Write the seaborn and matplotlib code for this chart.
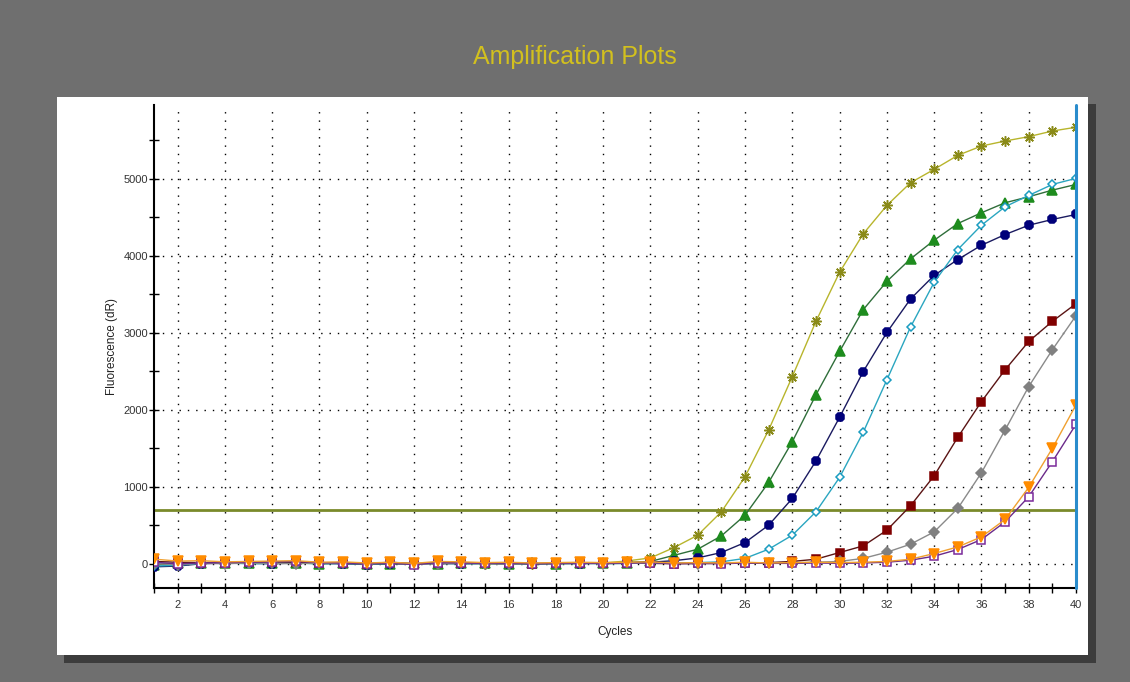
import numpy as np
import pandas as pd
import matplotlib
matplotlib.use("Agg")
import matplotlib.pyplot as plt
from matplotlib.patches import Rectangle
from matplotlib.ticker import MultipleLocator
import seaborn as sns

cycles = list(range(1, 41))
olive = [-20, 10, 15, 20, 5, 10, 15, 5, 10, 0, 5, 0, 10, 5, 0, 5, 0, 10, 5, 10,
         36, 76, 211, 371, 675, 1130, 1738, 2432, 3149, 3787, 4286, 4655, 4950, 5124,
         5306, 5427, 5492, 5549, 5622, 5671]
green = [-10, 5, 10, 15, 10, 5, 10, 0, 5, -5, 0, 5, 0, 10, 5, 0, 5, 0, 10, 5, 15,
         30, 110, 189, 362, 631, 1057, 1586, 2194, 2758, 3301, 3669, 3961, 4203, 4420,
         4560, 4690, 4768, 4854, 4928]
navy = [-40, -30, 0, 10, 5, 0, 10, 5, 0, -10, 0, -5, 5, 0, 5, -5, 0, 5, 0, 10, 15, 20,
        40, 76, 146, 276, 501, 849, 1335, 1903, 2497, 3005, 3440, 3747, 3952, 4138,
        4277, 4398, 4473, 4538]
teal = [-30, -20, 5, 10, 0, 5, 10, 0, 5, -5, 5, 0, 5, 0, 0, 5, -5, 0, 5, 0, 5, 10, 10, 15,
        25, 70, 189, 371, 675, 1122, 1708, 2389, 3075, 3656, 4082, 4398, 4638, 4785,
        4928, 5007]
darkred = [30, 20, 15, 10, 20, 25, 20, 15, 10, 0, 20, 0, 10, 15, 5, 10, 0, 5, 10, 5, 10,
           5, 0, 5, 10, 5, 15, 30, 59, 146, 232, 436, 753, 1143, 1643, 2107, 2520, 2888,
           3149, 3379]
gray = [0, -10, 5, 0, 10, 5, 0, 10, 5, 0, 5, -5, 0, 5, 0, -5, 5, 0, 5, 0, 5, 10, 5, 0, 5,
        10, 5, 10, 20, 30, 70, 150, 254, 414, 719, 1182, 1738, 2302, 2780, 3223]
purple = [20, 0, 10, 15, 20, 25, 30, 15, 10, 0, 10, -10, 15, 10, 5, 10, 0, 5, 10, 5, 10,
          15, 0, 5, 0, 10, 5, 5, 10, 5, 10, 20, 46, 98, 185, 315, 544, 870, 1326, 1812]
orange = [60, 35, 40, 25, 30, 35, 40, 20, 25, 10, 20, 5, 30, 25, 15, 20, 10, 15, 20, 15,
          20, 25, 10, 15, 10, 20, 10, 15, 20, 15, 20, 30, 59, 133, 219, 349, 575, 992,
          1500, 2064]
threshold = 700
x_ticks = list(range(2, 41, 2))
y_ticks = [0, 1000, 2000, 3000, 4000, 5000]

# (values, line colour, marker, marker face, marker edge, size)
series = [
    (olive, "#b8b52c", (8, 2, 0), "#8a8a18", "#8a8a18", 7.5),
    (green, "#2f6e3a", "^", "#1e8c1e", "#1e8c1e", 6.5),
    (navy, "#1a1a60", "8", "#00007a", "#00007a", 6.5),
    (teal, "#2aa6c0", "D", "white", "#1a9cc0", 4.5),
    (darkred, "#5a1414", "s", "#800000", "#800000", 6),
    (gray, "#8a8a8a", "D", "#808080", "#808080", 5),
    (purple, "#6a2a8a", "s", "white", "#7a2a9a", 5.5),
    (orange, "#f0a030", "v", "#ff8c00", "#ff8c00", 6.5),
]

sns.set_theme(style="white")
plt.rcParams["font.family"] = ["Liberation Sans", "DejaVu Sans"]

fig = plt.figure(figsize=(11.3, 6.82), dpi=100)
fig.patch.set_facecolor("#6f6f6f")

W, H = 1130, 682
# shadow and white panel
fig.patches.append(Rectangle((64 / W, 1 - 663 / H), (1096 - 64) / W, (663 - 104) / H,
                             transform=fig.transFigure, facecolor="#3c3c3c",
                             edgecolor="none", zorder=-2))
fig.patches.append(Rectangle((57 / W, 1 - 655 / H), (1088 - 57) / W, (655 - 97) / H,
                             transform=fig.transFigure, facecolor="white",
                             edgecolor="none", zorder=-1))

fig.text(575 / W, 1 - 57 / H, "Amplification Plots", color="#d2c01e",
         fontsize=18, ha="center", va="center")

ax = fig.add_axes([154 / W, 1 - 588 / H, (1076 - 154) / W, (588 - 105) / H])
ax.set_zorder(5)
ax.set_facecolor("none")

for i, (vals, lc, mk, mfc, mec, ms) in enumerate(series):
    sns.lineplot(x=cycles, y=vals, ax=ax, color=lc, linewidth=1.0,
                 marker=mk, markersize=ms, markerfacecolor=mfc,
                 markeredgecolor=mec, markeredgewidth=1.1, zorder=3 + i)

ax.axhline(threshold, color="#7a8a2a", linewidth=2.0, zorder=2)
ax.axvline(cycles[-1], color="#2a8ccc", linewidth=2.2, zorder=20, clip_on=False)

ax.set_xlim(1, 40)
ax.set_ylim(-315, 5960)
ax.set_xticks(x_ticks)
ax.set_yticks(y_ticks)
ax.xaxis.set_minor_locator(MultipleLocator(1))
ax.yaxis.set_minor_locator(MultipleLocator(500))
ax.grid(True, which="major", color="black", linestyle=(0, (1, 5)), linewidth=1.0)
ax.tick_params(axis="both", which="both", direction="inout", length=7, width=1,
               color="black", labelsize=8, labelcolor="#333333", left=True, bottom=True)
ax.tick_params(axis="x", pad=5)
ax.tick_params(axis="y", pad=1)

for side in ["top", "right"]:
    ax.spines[side].set_visible(False)
for side in ["left", "bottom"]:
    ax.spines[side].set_color("black")
    ax.spines[side].set_linewidth(1.5)

ax.set_xlabel("Cycles", fontsize=8.5, color="#222222", labelpad=12)
ax.set_ylabel("Fluorescence (dR)", fontsize=8.5, color="#222222", labelpad=4)

fig.savefig("out.png", dpi=100, facecolor=fig.get_facecolor())
